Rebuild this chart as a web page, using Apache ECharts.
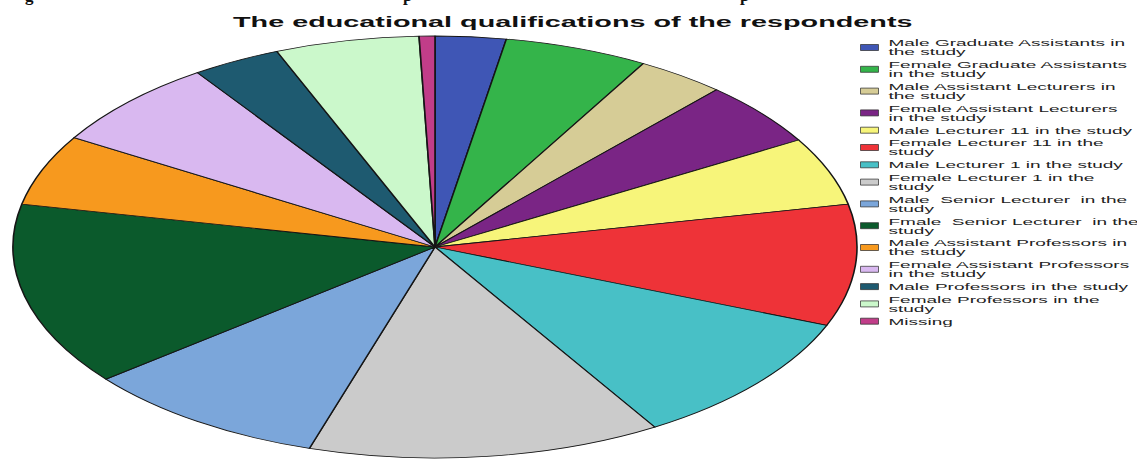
<!DOCTYPE html>
<html><head><meta charset="utf-8">
<script src="https://cdn.jsdelivr.net/npm/echarts@6/dist/echarts.min.js"></script>
<style>
html,body{margin:0;padding:0;background:#fff;overflow:hidden;width:1137px;height:459px;}
#main{position:absolute;left:0;top:0;width:568.5px;height:459px;transform:scaleX(2);transform-origin:0 0;}
</style></head><body><div id="main"></div>
<script>
// ---- data ----
const titleText = 'The educational qualifications of the respondents';
const categories = [
  'Male Graduate Assistants in the study',
  'Female Graduate Assistants in the study',
  'Male Assistant Lecturers in the study',
  'Female Assistant Lecturers in the study',
  'Male Lecturer 11 in the study',
  'Female Lecturer 11 in the study',
  'Male Lecturer 1 in the study',
  'Female Lecturer 1 in the study',
  'Male  Senior Lecturer  in the study',
  'Fmale  Senior Lecturer  in the study',
  'Male Assistant Professors in the study',
  'Female Assistant Professors in the study',
  'Male Professors in the study',
  'Female Professors in the study',
  'Missing'
];
const legendLabels = [
  'Male Graduate Assistants in\nthe study',
  'Female Graduate Assistants\nin the study',
  'Male Assistant Lecturers in\nthe study',
  'Female Assistant Lecturers\nin the study',
  'Male Lecturer 11 in the study',
  'Female Lecturer 11 in the\nstudy',
  'Male Lecturer 1 in the study',
  'Female Lecturer 1 in the\nstudy',
  'Male  Senior Lecturer  in the\nstudy',
  'Fmale  Senior Lecturer  in the\nstudy',
  'Male Assistant Professors in\nthe study',
  'Female Assistant Professors\nin the study',
  'Male Professors in the study',
  'Female Professors in the\nstudy',
  'Missing'
];
const values = [2.7, 5.5, 3.4, 4.9, 5.2, 9.3, 10.2, 13.5, 9.4, 14.0, 5.4, 6.8, 3.4, 5.5, 0.6];
const colors = ['#3f56b5', '#34b44a', '#d6cc96', '#7a2585', '#f7f57a', '#ee3338', '#48c0c6', '#cbcbcb',
                '#7ba6da', '#0b5a2c', '#f7991e', '#d9b8f0', '#1e5a70', '#cbf8cb', '#c13d89'];
const headerFragments = ['g', 'p', 'p'];

// ---- chart ----
const chart = echarts.init(document.getElementById('main'), null, {renderer: 'svg'});
const fragX = [25, 403, 740];
chart.setOption({
  animation: false,
  backgroundColor: '#fff',
  color: colors,
  title: {
    text: titleText,
    left: 116.5,
    top: 15,
    padding: 0,
    textStyle: {fontFamily: 'Liberation Sans, Arial, sans-serif', fontWeight: 'bold', fontSize: 14.4, color: '#111'}
  },
  legend: {
    orient: 'vertical',
    left: 430,
    top: 38,
    padding: 0,
    itemWidth: 9,
    itemHeight: 6,
    itemGap: 2.8,
    icon: 'rect',
    selectedMode: false,
    itemStyle: {borderColor: '#333', borderWidth: 0.5},
    formatter: function (name) { return legendLabels[categories.indexOf(name)]; },
    textStyle: {fontFamily: 'Liberation Sans, Arial, sans-serif', fontSize: 9.5, lineHeight: 9, color: '#222'}
  },
  graphic: headerFragments.map(function (t, i) {
    return {type: 'text', x: fragX[i] / 2, y: 4, scaleX: 0.5, silent: true,
      style: {text: t, font: 'bold 17px "Liberation Serif", serif', fill: '#111', verticalAlign: 'bottom'}};
  }),
  series: [{
    type: 'pie',
    center: [217.5, 247],
    radius: 211,
    startAngle: 90,
    clockwise: true,
    silent: true,
    label: {show: false},
    labelLine: {show: false},
    itemStyle: {borderColor: '#151515', borderWidth: 0.8},
    emphasis: {disabled: true},
    data: categories.map(function (c, i) { return {name: c, value: values[i]}; })
  }]
});
</script>
</body></html>
